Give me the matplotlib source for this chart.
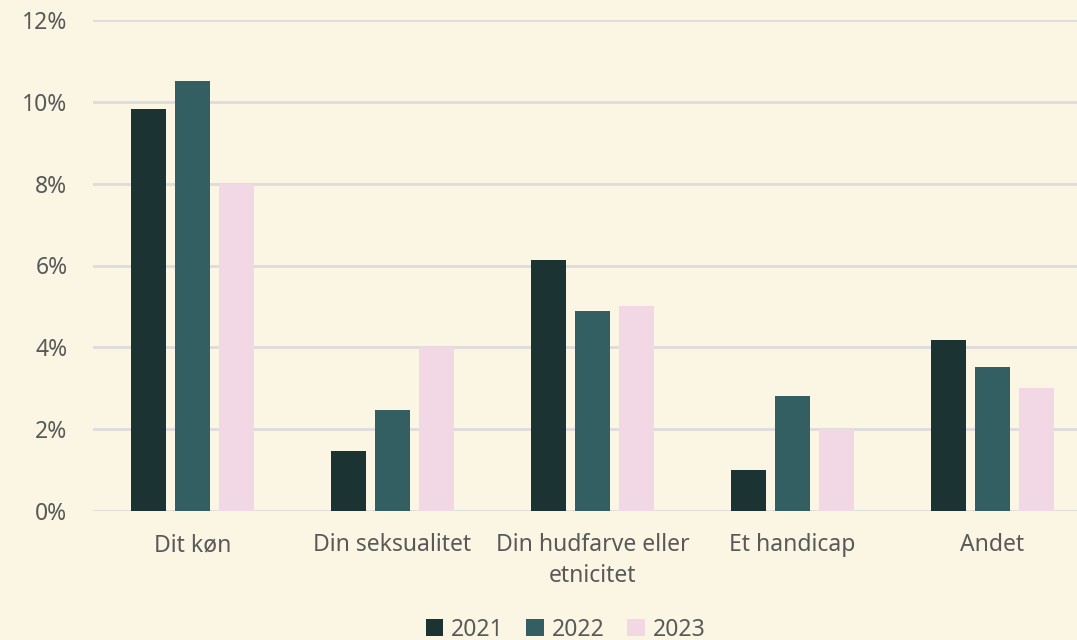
import numpy as np
import matplotlib.pyplot as plt
from matplotlib.ticker import FuncFormatter

categories = ["Dit køn", "Din seksualitet", "Din hudfarve eller\netnicitet", "Et handicap", "Andet"]
years = ["2021", "2022", "2023"]
v2021 = [9.83, 1.47, 6.14, 1.0, 4.18]
v2022 = [10.51, 2.47, 4.9, 2.81, 3.52]
v2023 = [8.0, 4.0, 5.0, 2.0, 3.0]
colors = ["#1C3334", "#335E62", "#F2D7E5"]

bg = "#FAF6E3"
txt = "#595959"
plt.rcParams['font.family'] = ['Noto Sans', 'DejaVu Sans']

fig = plt.figure(figsize=(10.77, 6.40), dpi=100, facecolor=bg)
ax = fig.add_axes([92.5 / 1077, 129 / 640, 1000 / 1077, 491 / 640])
ax.set_facecolor(bg)

x = np.arange(len(categories))
width = 0.175
offsets = [-0.22, 0, 0.22]
for vals, off, c, yr in zip([v2021, v2022, v2023], offsets, colors, years):
    ax.bar(x + off, vals, width, color=c, label=yr, zorder=3)

ax.set_xlim(-0.5, 4.5)
ax.set_ylim(0, 12)
ax.set_yticks(np.arange(0, 13, 2))
ax.yaxis.set_major_formatter(FuncFormatter(lambda v, p: f"{v:.0f}%"))
ax.grid(axis='y', color="#DCDCDC", linewidth=2, zorder=0)
for s in ax.spines.values():
    s.set_visible(False)
ax.tick_params(axis='both', length=0, labelsize=16.5, labelcolor=txt)
ax.tick_params(axis='y', pad=18)
ax.tick_params(axis='x', pad=16)
ax.set_xticks(x)
ax.set_xticklabels(categories, linespacing=1.35)

leg = fig.legend(loc='lower center', bbox_to_anchor=(0.525, -0.035), ncol=3, frameon=False,
                 fontsize=16.5, handlelength=0.75, handleheight=0.75, handletextpad=0.35,
                 columnspacing=1.0)
for t in leg.get_texts():
    t.set_color(txt)

fig.savefig("out.png", dpi=100, facecolor=bg)
